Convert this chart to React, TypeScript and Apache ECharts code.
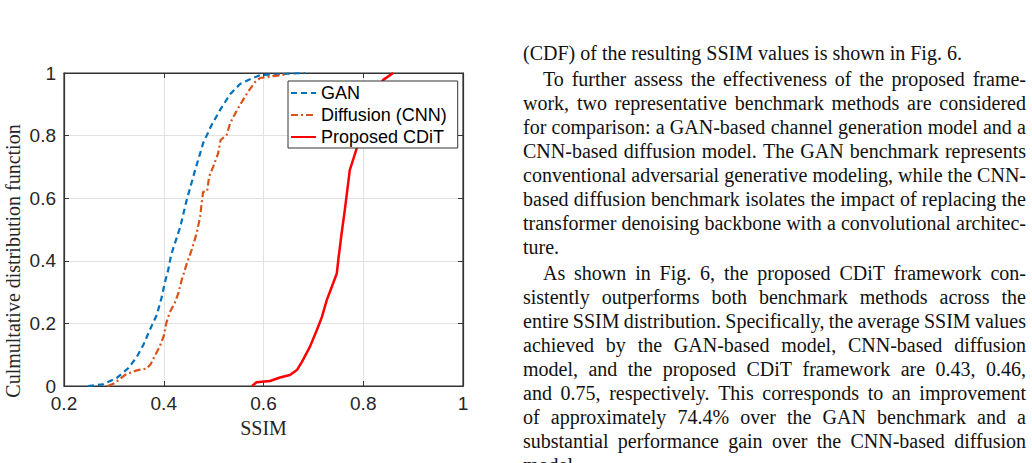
import React, { useEffect, useRef } from "react";
import * as echarts from "echarts";

// ---------- data ----------
const xTicks = [0.2, 0.4, 0.6, 0.8, 1];
const yTicks = [0, 0.2, 0.4, 0.6, 0.8, 1];
const seriesNames = ["GAN", "Diffusion (CNN)", "Proposed CDiT"];
const xAxisTitle = "SSIM";
const yAxisTitle = "Culmultative distribution function";

const ganSSIM = [0.248, 0.278, 0.306, 0.329, 0.346, 0.359, 0.372, 0.386, 0.396, 0.402, 0.409, 0.415, 0.433, 0.446, 0.463, 0.479, 0.496, 0.513, 0.533, 0.553, 0.573, 0.595, 0.62, 0.655, 0.683];
const ganCDF = [0, 0.005, 0.026, 0.057, 0.093, 0.131, 0.179, 0.227, 0.284, 0.329, 0.371, 0.42, 0.508, 0.594, 0.69, 0.776, 0.834, 0.882, 0.932, 0.965, 0.98, 0.994, 0.995, 0.998, 1];

const diffSSIM = [0.288, 0.3, 0.312, 0.322, 0.332, 0.346, 0.366, 0.374, 0.38, 0.392, 0.4, 0.405, 0.412, 0.422, 0.43, 0.436, 0.446, 0.456, 0.466, 0.473, 0.476, 0.479, 0.487, 0.491, 0.499, 0.509, 0.514, 0.526, 0.533, 0.547, 0.559, 0.569, 0.583, 0.593, 0.619, 0.639, 0.649];
const diffCDF = [0, 0.008, 0.022, 0.035, 0.042, 0.05, 0.056, 0.07, 0.09, 0.126, 0.16, 0.2, 0.235, 0.265, 0.3, 0.339, 0.39, 0.435, 0.488, 0.541, 0.584, 0.62, 0.622, 0.669, 0.7, 0.743, 0.786, 0.802, 0.839, 0.882, 0.914, 0.94, 0.971, 0.984, 0.99, 0.994, 1];

const cditSSIM = [0.577, 0.586, 0.613, 0.633, 0.653, 0.667, 0.677, 0.693, 0.707, 0.717, 0.727, 0.737, 0.747, 0.75, 0.756, 0.763, 0.773, 0.781, 0.79, 0.805, 0.82, 0.84, 0.86];
const cditCDF = [0, 0.012, 0.016, 0.027, 0.035, 0.051, 0.077, 0.125, 0.179, 0.22, 0.275, 0.317, 0.36, 0.403, 0.48, 0.562, 0.69, 0.73, 0.775, 0.86, 0.93, 0.978, 1];

const bodyLines = [
  "(CDF) of the resulting SSIM values is shown in Fig. 6.",
  "To further assess the effectiveness of the proposed frame-",
  "work, two representative benchmark methods are considered",
  "for comparison: a GAN-based channel generation model and a",
  "CNN-based diffusion model. The GAN benchmark represents",
  "conventional adversarial generative modeling, while the CNN-",
  "based diffusion benchmark isolates the impact of replacing the",
  "transformer denoising backbone with a convolutional architec-",
  "ture.",
  "As shown in Fig. 6, the proposed CDiT framework con-",
  "sistently outperforms both benchmark methods across the",
  "entire SSIM distribution. Specifically, the average SSIM values",
  "achieved by the GAN-based model, CNN-based diffusion",
  "model, and the proposed CDiT framework are 0.43, 0.46,",
  "and 0.75, respectively. This corresponds to an improvement",
  "of approximately 74.4% over the GAN benchmark and a",
  "substantial performance gain over the CNN-based diffusion",
  "model.",
];
const paragraphFirstLines = [1, 9];
const paragraphLastLines = [0, 8, 17];

// ---------- layout / style ----------
const W = 1032;
const H = 463;
const AX = "#333333";
const TXT = "#262626";
const SERIF = "'Liberation Serif', 'Times New Roman', serif";
const SANS = "'Liberation Sans', Arial, Helvetica, sans-serif";
const BODY_SIZE = 20;
const BODY_LEFT = 523;
const BODY_RIGHT = 1026;
const BODY_INDENT = 20;
const BODY_TOP = 53;
const BODY_LH = 24;
const PARA_GAP = 2;

const fmt = (v: number) => String(Math.round(v * 10) / 10);

function buildBody(): any[] {
  const canvas = document.createElement("canvas");
  const ctx = canvas.getContext("2d") as CanvasRenderingContext2D;
  ctx.font = `${BODY_SIZE}px ${SERIF}`;
  const els: any[] = [];
  let extra = 0;
  bodyLines.forEach((line, i) => {
    if (paragraphFirstLines.includes(i)) extra += PARA_GAP;
    const y = BODY_TOP + i * BODY_LH + extra;
    const x0 = BODY_LEFT + (paragraphFirstLines.includes(i) ? BODY_INDENT : 0);
    const style = {
      fill: "#111",
      fontFamily: SERIF,
      fontSize: BODY_SIZE,
      textAlign: "left",
      textVerticalAlign: "middle",
    };
    if (paragraphLastLines.includes(i)) {
      els.push({ type: "text", x: x0, y, silent: true, style: { ...style, text: line } });
      return;
    }
    const words = line.split(" ");
    const widths = words.map((w) => ctx.measureText(w).width);
    const total = widths.reduce((a, b) => a + b, 0);
    const gap = words.length > 1 ? (BODY_RIGHT - x0 - total) / (words.length - 1) : 0;
    let x = x0;
    words.forEach((w, k) => {
      els.push({ type: "text", x, y, silent: true, style: { ...style, text: w } });
      x += widths[k] + gap;
    });
  });
  return els;
}

export default function App() {
  const ref = useRef<HTMLDivElement>(null);
  useEffect(() => {
    if (!ref.current) return;
    const chart = echarts.init(ref.current, null, { renderer: "svg", width: W, height: H });

    const axisCommon = {
      type: "value",
      interval: 0.2,
      axisLine: { show: true, onZero: false, lineStyle: { color: AX, width: 1.2 } },
      axisTick: { show: true, inside: true, length: 5, lineStyle: { color: AX, width: 1 } },
    };

    const option: any = {
      animation: false,
      backgroundColor: "#ffffff",
      grid: {
        left: 64,
        top: 73,
        width: 399,
        height: 313,
        show: true,
        borderColor: AX,
        borderWidth: 1.2,
        backgroundColor: "transparent",
      },
      legend: {
        orient: "vertical",
        left: 288,
        top: 81,
        data: seriesNames,
        itemWidth: 25,
        itemHeight: 14,
        itemGap: 4,
        itemTextGap: 2,
        padding: [3, 11, 2, 2],
        backgroundColor: "#ffffff",
        borderColor: AX,
        borderWidth: 1,
        borderRadius: 0,
        itemStyle: { opacity: 0, color: "transparent", borderWidth: 0 },
        textStyle: { fontSize: 18, fontFamily: SANS, color: "#000" },
      },
      xAxis: [
        {
          ...axisCommon,
          min: xTicks[0],
          max: xTicks[xTicks.length - 1],
          position: "bottom",
          axisLabel: { margin: 8, fontSize: 19, fontFamily: SANS, color: TXT, formatter: fmt },
          splitLine: { show: true, lineStyle: { color: "#e2e2e2", width: 1 } },
          name: xAxisTitle,
          nameLocation: "middle",
          nameGap: 31,
          nameTextStyle: { fontSize: 20, fontFamily: SERIF, color: TXT },
        },
        {
          ...axisCommon,
          min: xTicks[0],
          max: xTicks[xTicks.length - 1],
          position: "top",
          axisLabel: { show: false },
          splitLine: { show: false },
        },
      ],
      yAxis: [
        {
          ...axisCommon,
          min: yTicks[0],
          max: yTicks[yTicks.length - 1],
          position: "left",
          axisLabel: { margin: 8, fontSize: 19, fontFamily: SANS, color: TXT, formatter: fmt },
          splitLine: { show: true, lineStyle: { color: "#e2e2e2", width: 1 } },
        },
        {
          ...axisCommon,
          min: yTicks[0],
          max: yTicks[yTicks.length - 1],
          position: "right",
          axisLabel: { show: false },
          splitLine: { show: false },
        },
      ],
      series: [
        {
          type: "line",
          name: seriesNames[0],
          data: ganSSIM.map((x, i) => [x, ganCDF[i]]),
          symbol: "none",
          lineStyle: { color: "#0072BD", width: 2.2, type: [6, 4] },
          itemStyle: { color: "#0072BD" },
        },
        {
          type: "line",
          name: seriesNames[1],
          data: diffSSIM.map((x, i) => [x, diffCDF[i]]),
          symbol: "none",
          lineStyle: { color: "#D95319", width: 2.2, type: [7, 3, 2, 3] },
          itemStyle: { color: "#D95319" },
        },
        {
          type: "line",
          name: seriesNames[2],
          data: cditSSIM.map((x, i) => [x, cditCDF[i]]),
          symbol: "none",
          lineStyle: { color: "#FF0000", width: 2.5, type: "solid" },
          itemStyle: { color: "#FF0000" },
        },
      ],
      graphic: [
        {
          type: "text",
          x: 13,
          y: 261,
          rotation: Math.PI / 2,
          silent: true,
          style: {
            text: yAxisTitle,
            fill: TXT,
            fontFamily: SERIF,
            fontSize: 20,
            textAlign: "center",
            textVerticalAlign: "middle",
          },
        },
        ...buildBody(),
      ],
    };
    chart.setOption(option);
    return () => chart.dispose();
  }, []);

  return (
    <div
      ref={ref}
      style={{ position: "absolute", left: 0, top: 0, width: W, height: H, background: "#fff" }}
    />
  );
}
